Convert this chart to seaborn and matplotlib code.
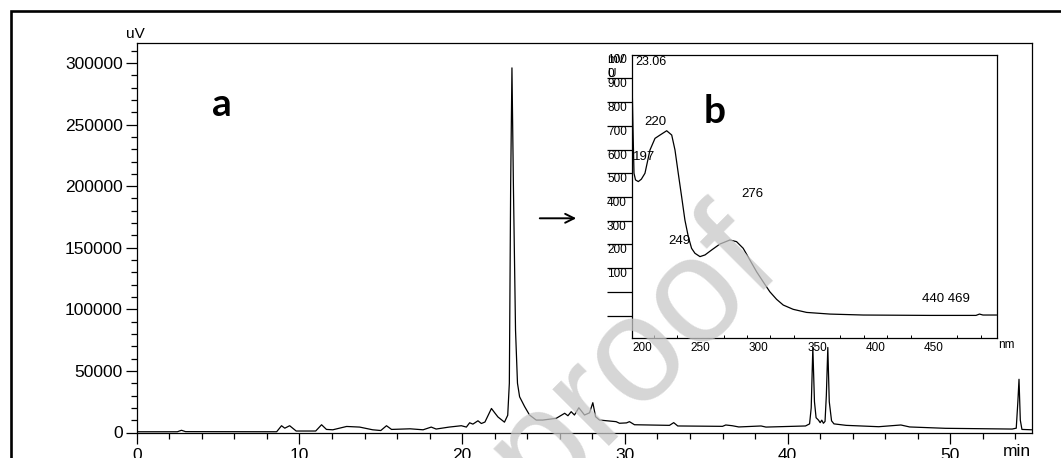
import numpy as np
import pandas as pd
import matplotlib
matplotlib.use("Agg")
import matplotlib.pyplot as plt
import seaborn as sns
from matplotlib.patches import Rectangle, FancyArrowPatch
from matplotlib.ticker import MultipleLocator, FuncFormatter

# ---------------- data ----------------
# HPLC chromatogram (retention time in min, signal in uV)
time_min = [0.0, 2.5, 2.75, 3.0, 8.6, 8.9, 9.1, 9.4, 9.8, 11.0, 11.36, 11.66, 12.05,
            12.9, 13.7, 14.5, 15.0, 15.35, 15.66, 16.8, 17.6, 18.1, 18.4, 19.2, 19.95,
            20.26, 20.46, 20.66, 20.97, 21.18, 21.4, 21.6, 21.8, 22.0, 22.2, 22.6, 22.8,
            22.9, 22.98, 23.06, 23.15, 23.28, 23.4, 23.53, 23.84, 24.14, 24.55, 24.95,
            25.78, 26.3, 26.5, 26.7, 26.9, 27.17, 27.52, 27.83, 28.03, 28.2, 28.44, 29.46,
            29.67, 30.1, 30.28, 30.59, 32.74, 33.0, 33.25, 36.0, 36.2, 36.6, 37.0, 38.37,
            38.67, 41.1, 41.35, 41.45, 41.55, 41.65, 41.75, 41.9, 42.0, 42.1, 42.2, 42.3,
            42.38, 42.47, 42.56, 42.7, 42.85, 43.6, 45.6, 46.96, 47.5, 49.7, 53.8, 54.05,
            54.15, 54.22, 54.3, 54.4, 55.0]
signal_uv = [600, 600, 1800, 700, 600, 5500, 3500, 5500, 1200, 1200, 6300, 2500, 2200,
             4900, 4400, 2200, 1600, 5500, 2500, 3000, 2200, 4400, 2800, 4400, 5500,
             4400, 7900, 6800, 9500, 7300, 8500, 14000, 19500, 16000, 12600, 8400, 14000,
             40000, 200000, 296000, 200000, 83000, 40000, 29000, 21000, 14200, 10100, 10100,
             11500, 15600, 13600, 16900, 14200, 20100, 14200, 16000, 24200, 12800, 10100, 8800,
             7500, 7800, 8800, 6300, 5800, 8000, 5300, 5000, 6100, 5500, 4500, 5300,
             4400, 5300, 7000, 20000, 69000, 25000, 12000, 10000, 8000, 10000, 7500, 9000,
             30000, 69000, 25000, 9500, 7000, 5800, 4700, 6100, 4500, 3400, 2800, 3500,
             25000, 43200, 10000, 2500, 2200]

# UV spectrum of the main peak (wavelength nm, absorbance in the inset's grid units)
wavelength_nm = [191.5, 192.3, 193.2, 194.5, 196.9, 199.5, 202.6, 206.9, 211.2, 215.5,
                 221.2, 225.5, 228.3, 231.1, 234.0, 236.8, 239.7, 242.5, 245.4, 249.7,
                 254.0, 259.7, 266.8, 275.3, 281.0, 286.7, 292.4, 298.2, 303.8, 309.5,
                 315.3, 321.0, 329.5, 341.0, 361.0, 389.4, 446.4, 486.0, 489.0, 492.0, 503.7]
absorbance = [1000, 800, 600, 572, 565, 575, 600, 698, 747, 761,
              779, 761, 698, 600, 501, 403, 333, 284, 263, 249,
              256, 277, 302, 319, 312, 284, 235, 185, 143, 101,
              69, 45, 27, 14, 7, 3, 1.4, 1.4, 7, 3, 3]

main_xticks = [0, 10, 20, 30, 40, 50]
inset_xticks = [200, 250, 300, 350, 400, 450]
inset_ytick_lines = [0, 100, 200, 300, 400, 500, 600, 700, 800, 900, 1000]
inset_ytick_labels = ["", "", "100", "200", "300", "400", "500", "600", "700", "800", "900"]
peak_labels = [("220", 211.2, 817), ("197", 192.6, 670), ("249", 231.7, 315),
               ("276", 294.7, 513), ("440 469", 460.0, 72)]

# ---------------- style ----------------
sns.set_theme(style="ticks", rc={
    "axes.edgecolor": "black", "axes.linewidth": 0.9,
    "xtick.color": "black", "ytick.color": "black",
    "text.color": "black", "axes.labelcolor": "black",
})
plt.rcParams["font.family"] = ["Liberation Sans", "DejaVu Sans"]

W, H = 1061, 458
fig = plt.figure(figsize=(W / 100, H / 100), dpi=100)
fig.patch.set_facecolor("white")

def fx(px):
    return px / W

def fy(py):
    return 1 - py / H

# ---------------- main chromatogram ----------------
ax = fig.add_axes([fx(136.7), fy(432.5), fx(1031.7) - fx(136.7), fy(43) - fy(432.5)])
ax.set_facecolor("none")
chrom = pd.DataFrame({"time": time_min, "signal": signal_uv})
sns.lineplot(data=chrom, x="time", y="signal", ax=ax, color="black", lw=0.9,
             estimator=None, sort=False)
ax.set_xlim(0, 55)
ax.set_ylim(0, 316200)
ax.set_xlabel("")
ax.set_ylabel("")
ax.set_xticks(main_xticks)
ax.xaxis.set_minor_locator(MultipleLocator(2))
ax.yaxis.set_major_locator(MultipleLocator(50000))
ax.yaxis.set_minor_locator(MultipleLocator(10000))
ax.yaxis.set_major_formatter(FuncFormatter(lambda v, p: f"{int(v)}"))
ax.tick_params(axis="both", which="major", direction="out", length=8, width=0.9,
               labelsize=12.5, pad=2)
ax.tick_params(axis="x", which="major", length=8, pad=3, labelsize=12.5)
ax.tick_params(axis="both", which="minor", direction="out", length=4.5, width=0.9)
for s in ax.spines.values():
    s.set_visible(True)
    s.set_linewidth(0.9)

fig.text(fx(135.7), fy(34), "uV", ha="center", va="center", fontsize=11)
fig.text(fx(1016.7), fy(451), "min", ha="center", va="center", fontsize=12.5)
fig.text(fx(222), fy(104), "a", ha="center", va="center", fontsize=28,
         fontweight="bold", family=["Lato", "DejaVu Sans"])

# ---------------- inset UV spectrum ----------------
ins = fig.add_axes([fx(632), fy(338.3), fx(997) - fx(632), fy(55) - fy(338.3)])
ins.set_facecolor("white")
spec = pd.DataFrame({"wl": wavelength_nm, "abs": absorbance})
sns.lineplot(data=spec, x="wl", y="abs", ax=ins, color="black", lw=0.9,
             estimator=None, sort=False)
ins.set_xlim(191.5, 504)
ins.set_ylim(-95, 1098)
ins.set_xlabel("")
ins.set_ylabel("")
ins.set_xticks(inset_xticks)
ins.set_xticks(np.arange(210, 500, 20), minor=True)
ins.tick_params(axis="x", which="major", length=0, labelsize=8.5, pad=3)
ins.tick_params(axis="x", which="minor", direction="in", length=2.5, width=0.7)
ins.set_yticks(inset_ytick_lines, inset_ytick_labels)
ins.tick_params(axis="y", which="major", direction="out", length=18, width=0.9,
                labelsize=8.5, pad=0)
for lab in ins.get_yticklabels():
    lab.set_ha("left")
    lab.set_va("top")
for s in ins.spines.values():
    s.set_visible(True)
    s.set_linewidth(0.9)

for txt, xv, yv in peak_labels:
    ha = "left" if txt == "197" else "center"
    ins.text(xv, yv, txt, ha=ha, va="center", fontsize=9.5)
ins.text(194, 1068, "23.06", ha="left", va="center", fontsize=9)

fig.text(fx(1006), fy(344.5), "nm", ha="center", va="center", fontsize=8.5)
fig.text(fx(607), fy(60), "100", ha="left", va="center", fontsize=8.5)
fig.text(fx(607), fy(60), "mV", ha="left", va="center", fontsize=8.5)
fig.text(fx(607), fy(74), "0", ha="left", va="center", fontsize=8.5)
fig.text(fx(607), fy(74), "U", ha="left", va="center", fontsize=8.5)
fig.text(fx(715), fy(111.7), "b", ha="center", va="center", fontsize=28,
         fontweight="bold", family=["Lato", "DejaVu Sans"])

# arrow pointing at the inset
fig.add_artist(FancyArrowPatch(
    (fx(537), fy(218.3)), (fx(579), fy(218.3)), transform=fig.transFigure,
    arrowstyle="->", mutation_scale=16, lw=1.4, color="black"))

# outer frame
fig.add_artist(Rectangle((fx(10.5), fy(480)), fx(1100), fy(11) - fy(480),
                         transform=fig.transFigure, fill=False, lw=1.9,
                         edgecolor="black"))

# watermark
fig.text(fx(757), fy(243), "Journal Pre-proof", ha="right", va="center",
         rotation=45, rotation_mode="anchor", fontsize=108, color="#c8c8c8",
         alpha=0.75, zorder=10)

fig.savefig("out.png", dpi=100)
